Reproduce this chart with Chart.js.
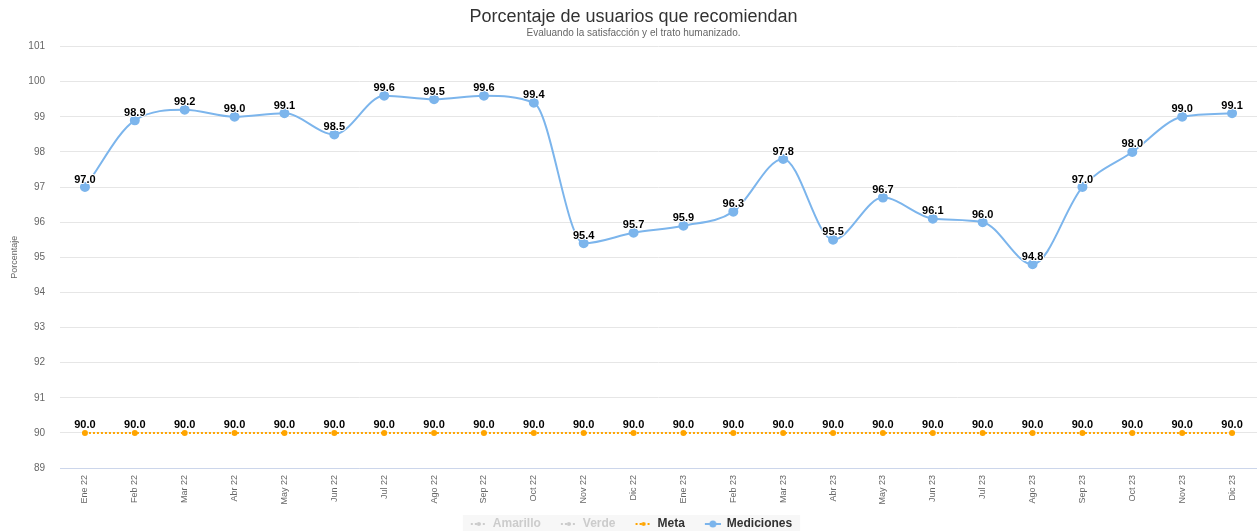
<!DOCTYPE html>
<html>
<head>
<meta charset="utf-8">
<script src="https://cdn.jsdelivr.net/npm/chart.js@4.4.1/dist/chart.umd.min.js"></script>
<style>
  html, body { margin: 0; padding: 0; background: #fff; }
  #wrap { width: 1257px; height: 531px; }
</style>
</head>
<body>
<div id="wrap"><canvas id="recomiendanChart"></canvas></div>
<script>
const meses = ['Ene 22', 'Feb 22', 'Mar 22', 'Abr 22', 'May 22', 'Jun 22', 'Jul 22', 'Ago 22', 'Sep 22', 'Oct 22', 'Nov 22', 'Dic 22',
  'Ene 23', 'Feb 23', 'Mar 23', 'Abr 23', 'May 23', 'Jun 23', 'Jul 23', 'Ago 23', 'Sep 23', 'Oct 23', 'Nov 23', 'Dic 23'];
const mediciones = [97.0, 98.9, 99.2, 99.0, 99.1, 98.5, 99.6, 99.5, 99.6, 99.4, 95.4, 95.7,
  95.9, 96.3, 97.8, 95.5, 96.7, 96.1, 96.0, 94.8, 97.0, 98.0, 99.0, 99.1];
const meta = [90, 90, 90, 90, 90, 90, 90, 90, 90, 90, 90, 90,
  90, 90, 90, 90, 90, 90, 90, 90, 90, 90, 90, 90];
const yMin = 89;
const yMax = 101;

const FONT = "'Liberation Sans', Arial, Helvetica, sans-serif";

// legend symbol: a short line with a dot, with empty room on the left
function simbolo(color, dashed) {
  const c = document.createElement('canvas');
  c.width = 24; c.height = 10;
  const g = c.getContext('2d');
  g.strokeStyle = color;
  g.lineWidth = 2;
  if (dashed) g.setLineDash([2, 2]);
  g.beginPath(); g.moveTo(8, 5); g.lineTo(24, 5); g.stroke();
  g.setLineDash([]);
  g.fillStyle = color;
  g.beginPath(); g.arc(16, 5, dashed ? 2 : 3.5, 0, Math.PI * 2); g.fill();
  return c;
}

// title and subtitle sit a little right of the canvas centre, legend a touch left
const desplazar = {
  id: 'desplazar',
  afterLayout(chart) {
    const dxTitulo = 5;
    const dxLeyenda = -1;
    chart.boxes.forEach(b => {
      if (b instanceof Chart.Title._element) {
        b.left += dxTitulo;
        b.right += dxTitulo;
      } else if (b === chart.legend) {
        b.left += dxLeyenda;
        b.right += dxLeyenda;
      }
    });
    (chart.legend.legendHitBoxes || []).forEach(h => { h.left += dxLeyenda; });
  }
};

// value labels above every point
const etiquetas = {
  id: 'etiquetas',
  afterDatasetsDraw(chart) {
    const ctx = chart.ctx;
    ctx.save();
    ctx.font = 'bold 11px ' + FONT;
    ctx.textAlign = 'center';
    ctx.textBaseline = 'bottom';
    ctx.lineJoin = 'round';
    chart.data.datasets.forEach((ds, i) => {
      const meta = chart.getDatasetMeta(i);
      if (meta.hidden) return;
      meta.data.forEach((pt, j) => {
        const txt = ds.data[j].toFixed(1);
        ctx.strokeStyle = '#fff';
        ctx.lineWidth = 2;
        ctx.strokeText(txt, pt.x, pt.y - 2);
        ctx.fillStyle = '#000';
        ctx.fillText(txt, pt.x, pt.y - 2);
      });
    });
    ctx.restore();
  }
};

// grey box behind the legend
const fondoLeyenda = {
  id: 'fondoLeyenda',
  beforeDraw(chart) {
    const lg = chart.legend;
    if (!lg || !lg.legendHitBoxes || !lg.legendHitBoxes.length) return;
    const boxes = lg.legendHitBoxes;
    const x0 = boxes[0].left;
    const last = boxes[boxes.length - 1];
    const x1 = last.left + last.width + 8;
    const ctx = chart.ctx;
    ctx.save();
    ctx.fillStyle = '#f7f7f7';
    ctx.fillRect(x0, boxes[0].top - 3, x1 - x0, chart.height);
    ctx.restore();
  }
};

new Chart('recomiendanChart', {
  type: 'line',
  data: {
    labels: meses,
    datasets: [
      {
        label: 'Meta',
        data: meta,
        borderColor: '#ffa500',
        backgroundColor: '#ffa500',
        borderWidth: 2,
        borderDash: [2, 2],
        pointRadius: 2,
        pointHoverRadius: 2,
        tension: 0
      },
      {
        label: 'Mediciones',
        data: mediciones,
        borderColor: '#7cb5ec',
        backgroundColor: '#7cb5ec',
        borderWidth: 2,
        pointRadius: 4,
        pointHoverRadius: 4,
        cubicInterpolationMode: 'monotone'
      }
    ]
  },
  options: {
    responsive: true,
    maintainAspectRatio: false,
    animation: false,
    layout: { autoPadding: false, padding: { left: 0, right: 0, top: 0, bottom: -9 } },
    plugins: {
      title: {
        display: true,
        text: 'Porcentaje de usuarios que recomiendan',
        color: '#333',
        font: { family: FONT, size: 18, weight: 'normal' },
        padding: { top: 6, bottom: 0 }
      },
      subtitle: {
        display: true,
        text: 'Evaluando la satisfacción y el trato humanizado.',
        color: '#666',
        font: { family: FONT, size: 10 },
        padding: { top: 0, bottom: 7 }
      },
      legend: {
        position: 'bottom',
        labels: {
          usePointStyle: true,
          pointStyleWidth: 24,
          font: { family: FONT, size: 12, weight: 'bold' },
          padding: 12,
          boxHeight: 10,
          generateLabels() {
            return [
              { text: 'Amarillo', pointStyle: simbolo('#cccccc', true), fontColor: '#cccccc', hidden: false, lineWidth: 0 },
              { text: 'Verde', pointStyle: simbolo('#cccccc', true), fontColor: '#cccccc', hidden: false, lineWidth: 0 },
              { text: 'Meta', pointStyle: simbolo('#ffa500', true), fontColor: '#333333', hidden: false, lineWidth: 0 },
              { text: 'Mediciones', pointStyle: simbolo('#7cb5ec', false), fontColor: '#333333', hidden: false, lineWidth: 0 }
            ];
          }
        },
        onClick() {}
      },
      tooltip: { enabled: false }
    },
    scales: {
      x: {
        offset: true,
        grid: { display: false, offset: true, drawTicks: false },
        border: { color: '#ccd6eb' },
        afterFit(scale) {
          scale.height = 38;
          scale.paddingLeft = 0;
          scale.paddingRight = 0;
        },
        ticks: {
          minRotation: 90,
          maxRotation: 90,
          autoSkip: false,
          padding: 7,
          color: '#666',
          font: { family: FONT, size: 9 }
        }
      },
      y: {
        min: yMin,
        max: yMax,
        border: { display: false },
        grid: { color: '#e6e6e6', drawTicks: false },
        afterFit(scale) {
          scale.width = 60;
        },
        ticks: {
          stepSize: 1,
          padding: 15,
          color: '#666',
          font: { family: FONT, size: 10 }
        },
        title: {
          display: true,
          text: 'Porcentaje',
          color: '#666',
          font: { family: FONT, size: 9 },
          padding: { top: 9, bottom: 0 }
        }
      }
    }
  },
  plugins: [desplazar, fondoLeyenda, etiquetas]
});
</script>
</body>
</html>
